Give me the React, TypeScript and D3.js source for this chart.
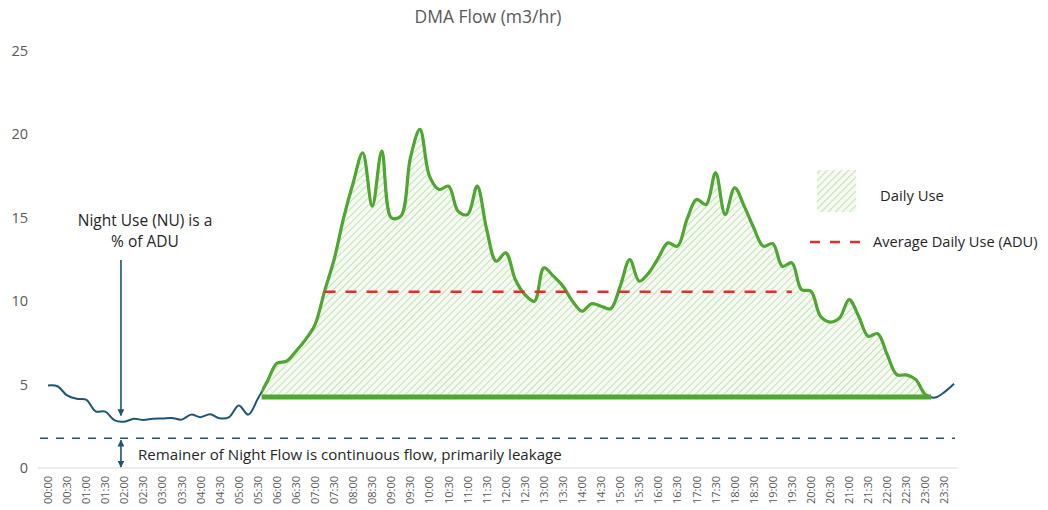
import React from 'react';
import * as d3 from 'd3';

// 15-minute flow readings (m3/hr), 00:00 .. 23:45
const flow: number[] = [
  4.95, 4.9, 4.35, 4.15, 4.1, 3.4, 3.38, 2.85, 2.78, 2.95,
  2.88, 2.95, 2.97, 3.0, 2.9, 3.2, 3.05, 3.22, 2.98, 3.05,
  3.75, 3.2, 4.15, 5.2, 6.28, 6.4, 7.0, 7.7, 8.6, 10.6,
  12.5, 15.0, 17.1, 18.9, 15.7, 19.0, 15.0, 15.1, 18.6, 20.3,
  17.5, 16.7, 16.9, 15.4, 15.2, 16.9, 14.3, 12.4, 12.9, 11.3,
  10.4, 10.0, 12.0, 11.5, 10.9, 10.0, 9.4, 9.85, 9.7, 9.55,
  10.9, 12.5, 11.2, 11.7, 12.6, 13.5, 13.3, 14.9, 16.1, 15.8,
  17.7, 15.2, 16.8, 15.7, 14.4, 13.3, 13.45, 12.1, 12.3, 10.7,
  10.6, 9.1, 8.75, 9.0, 10.1, 9.1, 7.9, 8.05, 6.8, 5.6,
  5.58, 5.3, 4.4, 4.22, 4.55, 5.05,
];

const timeLabels: string[] = [
  '00:00', '00:30', '01:00', '01:30', '02:00', '02:30', '03:00', '03:30',
  '04:00', '04:30', '05:00', '05:30', '06:00', '06:30', '07:00', '07:30',
  '08:00', '08:30', '09:00', '09:30', '10:00', '10:30', '11:00', '11:30',
  '12:00', '12:30', '13:00', '13:30', '14:00', '14:30', '15:00', '15:30',
  '16:00', '16:30', '17:00', '17:30', '18:00', '18:30', '19:00', '19:30',
  '20:00', '20:30', '21:00', '21:30', '22:00', '22:30', '23:00', '23:30',
];

const yTicks: number[] = [0, 5, 10, 15, 20, 25];

const baselineFlow = 4.25; // night use level
const aduFlow = 10.57; // average daily use
const leakageFlow = 1.78; // continuous flow
const dayWindow: number[] = [22.4, 92.6]; // indices where daily use is above baseline
const aduWindow: number[] = [29.0, 78.0];

const W = 1048;
const H = 510;
const FONT = '"Open Sans", "Noto Sans", sans-serif';
const GREEN = '#4EA72E';
const BLUE = '#1d5674';
const RED = '#e0302a';
const GREY = '#595959';

export default function App() {
  const x = d3.scaleLinear().domain([0, flow.length - 1]).range([48, 954]);
  const y = d3.scaleLinear().domain([0, 25]).range([468, 51]);

  const pts: [number, number][] = flow.map((v, i) => [i, v]);
  const line = d3
    .line<[number, number]>()
    .x((d) => x(d[0]))
    .y((d) => y(d[1]))
    .curve(d3.curveCatmullRom.alpha(0.5));
  const area = d3
    .area<[number, number]>()
    .x((d) => x(d[0]))
    .y0(y(baselineFlow))
    .y1((d) => y(d[1]))
    .curve(d3.curveCatmullRom.alpha(0.5));

  const clipX0 = x(dayWindow[0]);
  const clipX1 = x(dayWindow[1]);
  const arrowX = x(7.65);

  return (
    <svg
      width={W}
      height={H}
      style={{ position: 'absolute', left: 0, top: 0, background: '#fff' }}
      fontFamily={FONT}
    >
      <defs>
        <pattern
          id="hatch"
          patternUnits="userSpaceOnUse"
          width={5}
          height={5}
          patternTransform="rotate(45)"
        >
          <rect width={5} height={5} fill="#f5faf2" />
          <line x1={0} y1={0} x2={0} y2={5} stroke="#c6e0b8" strokeWidth={2} />
        </pattern>
        <clipPath id="dayClip">
          <rect x={clipX0} y={0} width={clipX1 - clipX0} height={y(baselineFlow)} />
        </clipPath>
        <marker
          id="arrowHead"
          viewBox="0 0 10 10"
          refX={9}
          refY={5}
          markerWidth={7}
          markerHeight={7}
          markerUnits="userSpaceOnUse"
          orient="auto-start-reverse"
        >
          <path d="M0,0 L10,5 L0,10 Z" fill={BLUE} />
        </marker>
      </defs>

      {/* title */}
      <text x={488} y={23} textAnchor="middle" fontSize={17.5} fill={GREY}>
        DMA Flow (m3/hr)
      </text>

      {/* y tick labels */}
      {yTicks.map((t) => (
        <text key={t} x={28} y={y(t) + 5} textAnchor="end" fontSize={14.5} fill={GREY}>
          {t}
        </text>
      ))}

      {/* x axis line */}
      <line x1={38} x2={957} y1={y(0)} y2={y(0)} stroke="#d9d9d9" strokeWidth={1} />

      {/* x tick labels */}
      {timeLabels.map((lab, k) => {
        const px = x(k * 2);
        return (
          <text
            key={lab}
            transform={`translate(${px + 4},${476}) rotate(-90)`}
            textAnchor="end"
            fontSize={11}
            fill={GREY}
          >
            {lab}
          </text>
        );
      })}

      {/* daily use hatch area */}
      <path d={area(pts) || ''} fill="url(#hatch)" clipPath="url(#dayClip)" />

      {/* full flow line (night colour) */}
      <path d={line(pts) || ''} fill="none" stroke={BLUE} strokeWidth={2} />

      {/* daily portion in green */}
      <path
        d={line(pts) || ''}
        fill="none"
        stroke={GREEN}
        strokeWidth={3.2}
        clipPath="url(#dayClip)"
      />

      {/* baseline */}
      <line
        x1={clipX0}
        x2={clipX1}
        y1={y(baselineFlow)}
        y2={y(baselineFlow)}
        stroke={GREEN}
        strokeWidth={5}
      />

      {/* ADU */}
      <line
        x1={x(aduWindow[0])}
        x2={x(aduWindow[1])}
        y1={y(aduFlow)}
        y2={y(aduFlow)}
        stroke={RED}
        strokeWidth={2.6}
        strokeDasharray="11 10"
      />

      {/* leakage level */}
      <line
        x1={40}
        x2={955}
        y1={y(leakageFlow)}
        y2={y(leakageFlow)}
        stroke={BLUE}
        strokeWidth={1.6}
        strokeDasharray="8 8"
      />

      {/* night use arrow */}
      <line
        x1={arrowX}
        x2={arrowX}
        y1={260}
        y2={y(3.15)}
        stroke={BLUE}
        strokeWidth={1.6}
        markerEnd="url(#arrowHead)"
      />
      <text x={145} y={226} textAnchor="middle" fontSize={15.5} fill="#262626">
        Night Use (NU) is a
      </text>
      <text x={145} y={247} textAnchor="middle" fontSize={15.5} fill="#262626">
        % of ADU
      </text>

      {/* leakage double arrow */}
      <line
        x1={arrowX}
        x2={arrowX}
        y1={y(leakageFlow) + 2}
        y2={y(0) - 1}
        stroke={BLUE}
        strokeWidth={1.6}
        markerStart="url(#arrowHead)"
        markerEnd="url(#arrowHead)"
      />
      <text x={138} y={460} fontSize={15.1} fill="#262626">
        Remainer of Night Flow is continuous flow, primarily leakage
      </text>

      {/* legend */}
      <rect x={817} y={170} width={39} height={42} fill="url(#hatch)" />
      <text x={880} y={201} fontSize={14.8} fill="#262626">
        Daily Use
      </text>
      <line
        x1={810}
        x2={862}
        y1={242}
        y2={242}
        stroke={RED}
        strokeWidth={2.6}
        strokeDasharray="10 10"
      />
      <text x={873} y={247} fontSize={14.6} fill="#262626">
        Average Daily Use (ADU)
      </text>
    </svg>
  );
}
